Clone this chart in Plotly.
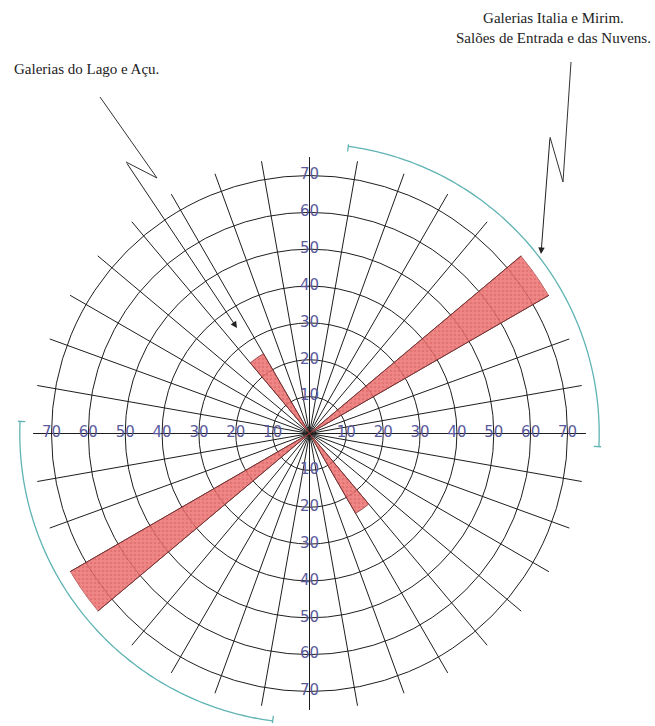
import numpy as np
import plotly.graph_objects as go

# Rose diagram of gallery orientations (azimuth, clockwise from north)
ring_values = [10, 20, 30, 40, 50, 60, 70]
ring_labels = ["10", "20", "30", "40", "50", "60", "70"]
label_bearings = [0, 90, 180, 270]

sector_centers = [55, 235, 325, 145]
sector_values = [75, 75, 25, 25]
sector_width = 10

# bracket arcs marking the two direction families
bracket_starts = [7.7, 187.3]
bracket_ends = [92.6, 272.4]
bracket_radius = 78.6
bracket_tick_in = 77.2
bracket_tick_out = 79.3

W, H = 655, 726
cx, cy = 309.5, 433.5          # centre of the rose, px from top-left
r_max = 75
px_per_unit = 258 / 70
R = r_max * px_per_unit
R2 = H - cy - 0.5               # outer frame used for the brackets
r2_max = R2 / px_per_unit

fig = go.Figure()

fig.add_trace(go.Barpolar(
    theta=sector_centers,
    r=sector_values,
    width=[sector_width] * len(sector_values),
    marker=dict(
        color="#ee7272",
        opacity=0.85,
        line=dict(color="#8c3434", width=1),
        pattern=dict(shape=".", fillmode="overlay", bgcolor="#ee7272",
                     fgcolor="#cc4444", size=4, solidity=0.35),
    ),
    hoverinfo="skip",
    showlegend=False,
))

# radial value labels along the four cardinal directions
lab_r, lab_t, lab_s = [], [], []
for b in label_bearings:
    for v, s in zip(ring_values, ring_labels):
        lab_r.append(v)
        lab_t.append(b)
        lab_s.append(s)
fig.add_trace(go.Scatterpolar(
    r=lab_r, theta=lab_t, text=lab_s, mode="text",
    textfont=dict(family="DejaVu Sans", size=15, color="#5a5a9c"),
    textposition="middle center",
    hoverinfo="skip", showlegend=False,
))

# teal brackets with radial end ticks, on a wider concentric frame
teal = "#5fb3b3"
for a0, a1 in zip(bracket_starts, bracket_ends):
    th = np.linspace(a0, a1, 120)
    fig.add_trace(go.Scatterpolar(
        r=[bracket_radius] * len(th), theta=th, mode="lines",
        line=dict(color=teal, width=1.3), subplot="polar2",
        hoverinfo="skip", showlegend=False,
    ))
    for a in (a0, a1):
        fig.add_trace(go.Scatterpolar(
            r=[bracket_tick_in, bracket_tick_out],
            theta=[a, a], mode="lines",
            line=dict(color=teal, width=1.3), subplot="polar2",
            hoverinfo="skip", showlegend=False,
        ))

hidden_angular = dict(rotation=90, direction="clockwise", showgrid=False,
                      showticklabels=False, ticks="", showline=False)

fig.update_layout(
    width=W, height=H,
    margin=dict(l=0, r=0, t=0, b=0),
    paper_bgcolor="white",
    plot_bgcolor="white",
    polar=dict(
        domain=dict(x=[(cx - R) / W, (cx + R) / W],
                    y=[(H - cy - R) / H, (H - cy + R) / H]),
        bgcolor="rgba(0,0,0,0)",
        radialaxis=dict(range=[0, r_max], tickvals=ring_values,
                        showticklabels=False, ticks="", showline=False,
                        gridcolor="#1e1e1e", gridwidth=1),
        angularaxis=dict(rotation=90, direction="clockwise",
                         dtick=10, tick0=0, showticklabels=False, ticks="",
                         showline=False, gridcolor="#1e1e1e", gridwidth=1),
    ),
    polar2=dict(
        domain=dict(x=[(cx - R2) / W, (cx + R2) / W],
                    y=[max(0.0, (H - cy - R2) / H), (H - cy + R2) / H]),
        bgcolor="rgba(0,0,0,0)",
        radialaxis=dict(range=[0, r2_max], showgrid=False,
                        showticklabels=False, ticks="", showline=False),
        angularaxis=hidden_angular,
    ),
)


def px(x, y):
    return x / W, 1 - y / H


def zigzag(points):
    path = ""
    for i, (x, y) in enumerate(points):
        u, v = px(x, y)
        path += ("M" if i == 0 else " L") + f" {u:.5f} {v:.5f}"
    return path


line_col = "#333333"
left_zig = [(100, 97), (157, 178), (126, 162)]
left_tip = (237, 328)
right_zig = [(571, 62), (563, 182), (550, 137)]
right_tip = (541, 254)

for zig, tip in ((left_zig, left_tip), (right_zig, right_tip)):
    fig.add_shape(type="path", xref="paper", yref="paper",
                  path=zigzag(zig), line=dict(color=line_col, width=1))
    tx, ty = px(*tip)
    fig.add_annotation(x=tx, y=ty, xref="paper", yref="paper", text="",
                       showarrow=True, arrowhead=2, arrowsize=1.3,
                       arrowwidth=1, arrowcolor="#222222",
                       ax=zig[-1][0] - tip[0], ay=zig[-1][1] - tip[1],
                       standoff=0)

serif = dict(family="Liberation Serif", size=15, color="#222222")
x0, y0 = px(12, 69)
fig.add_annotation(x=x0, y=y0, xref="paper", yref="paper",
                   text="Galerias do Lago e Açu.", showarrow=False,
                   xanchor="left", yanchor="middle", font=serif)
x1, y1 = px(553, 28)
fig.add_annotation(x=x1, y=y1, xref="paper", yref="paper",
                   text="Galerias Italia e Mirim.<br>Salões de Entrada e das Nuvens.",
                   showarrow=False, xanchor="center", yanchor="middle",
                   align="center", font=serif)

fig.write_html("out.html")
